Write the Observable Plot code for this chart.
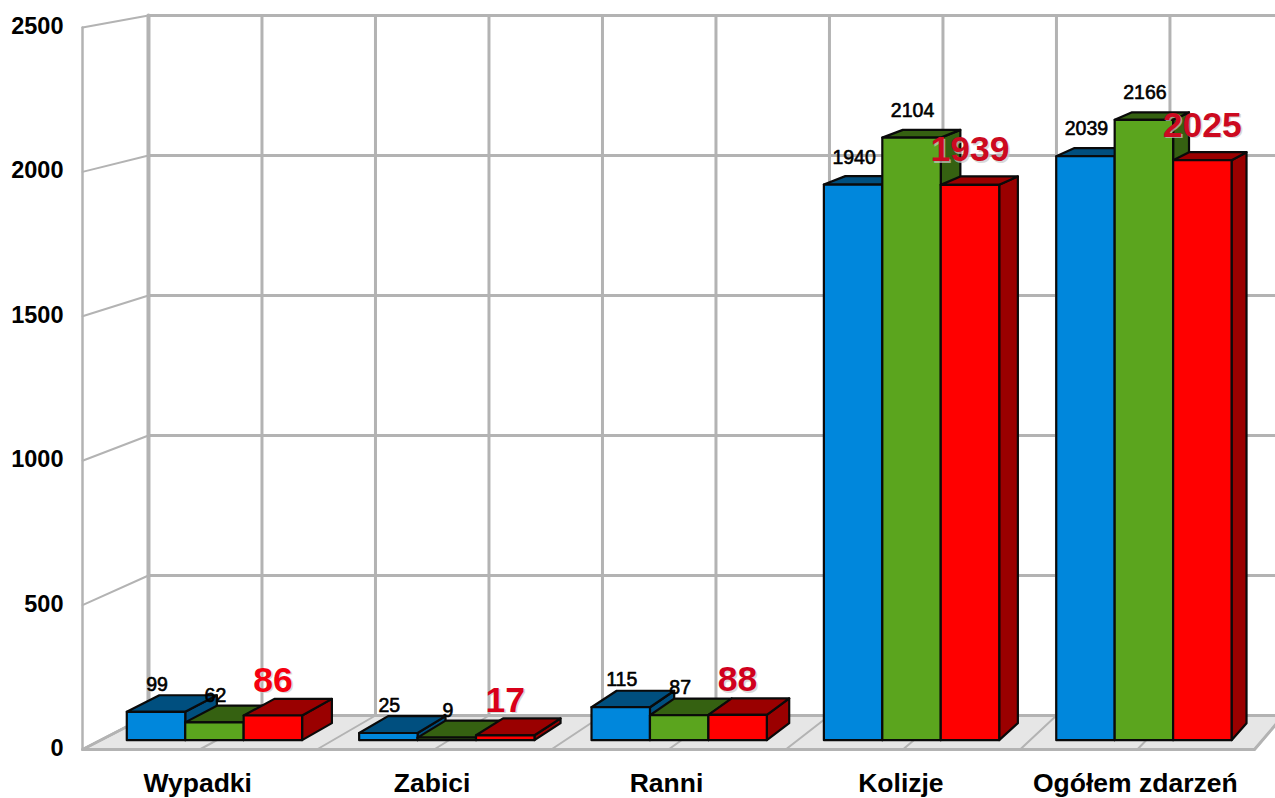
<!DOCTYPE html>
<html>
<head>
<meta charset="utf-8">
<script src="https://cdn.jsdelivr.net/npm/d3@7"></script>
<script src="https://cdn.jsdelivr.net/npm/@observablehq/plot@0.6"></script>
<style>
html,body{margin:0;padding:0;background:#fff;overflow:hidden}
svg{display:block}
</style>
</head>
<body>
<div id="chart"></div>
<script>
const categories = ["Wypadki", "Zabici", "Ranni", "Kolizje", "Ogółem zdarzeń"];
const seriesBlue = [99, 25, 115, 1940, 2039];
const seriesGreen = [62, 9, 87, 2104, 2166];
const seriesRed = [86, 17, 88, 1939, 2025];
const yTicks = [0, 500, 1000, 1500, 2000, 2500];
const faceColors = [
  {front: "#0087dc", shade: "#004f7f"},
  {front: "#5ba51e", shade: "#356111"},
  {front: "#ff0000", shade: "#9a0000"}
];
const redLabelColors = ["#f5000f", "#d8001a", "#d0001e", "#cc0a20", "#cc0a20"];

// Oblique perspective: depth d runs from the front of the floor (0) to the back wall (1).
const project = (u, v, d) => ({
  u: u + d * (0.563 - 0.0316 * u),
  v: v + d * (117.7 - 0.0305 * v)
});

const uMax = categories.length * 2;
const vMax = 2500;
const depthFront = 0.275, depthBack = 0.775;
const barStart = 0.225, barWidth = 0.503;

const polygon = (id, corners, extra = {}) =>
  [...corners, corners[0]].map(([u, v, d]) => ({id, ...project(u, v, d), ...extra}));
const segment = (id, a, b) => [a, b].map(([u, v, d]) => ({id, ...project(u, v, d)}));

const floor = polygon("floor", [[0, 0, 0], [uMax, 0, 0], [uMax, 0, 1], [0, 0, 1]]);
const floorLines = d3.range(0, uMax + 1).flatMap(u => segment("f" + u, [u, 0, 0], [u, 0, 1]));
const backVerticals = d3.range(1, uMax + 1).flatMap(u => segment("b" + u, [u, 0, 1], [u, vMax, 1]));
const backHorizontals = yTicks.flatMap(v => segment("h" + v, [0, v, 1], [uMax, v, 1]));
const wallLines = yTicks.flatMap(v => segment("w" + v, [0, v, 0], [0, v, 1]));
const wallFront = segment("wf", [0, 0, 0], [0, vMax, 0]);
const wallBack = segment("wb", [0, 0, 1], [0, vMax, 1]);

const allSeries = [seriesBlue, seriesGreen, seriesRed];
const faces = [];
const labels = [];
categories.forEach((c, i) => {
  allSeries.forEach((values, s) => {
    const v = values[i];
    const u0 = 2 * i + barStart + s * barWidth, u1 = u0 + barWidth;
    const d0 = depthFront, d1 = depthBack;
    const key = `${i}-${s}`;
    const {front, shade} = faceColors[s];
    faces.push(...polygon(key + "side", [[u1, 0, d0], [u1, 0, d1], [u1, v, d1], [u1, v, d0]], {color: shade}));
    faces.push(...polygon(key + "top", [[u0, v, d0], [u1, v, d0], [u1, v, d1], [u0, v, d1]], {color: shade}));
    faces.push(...polygon(key + "front", [[u0, 0, d0], [u1, 0, d0], [u1, v, d0], [u0, v, d0]], {color: front}));
    const p = project((u0 + u1) / 2, v, d0);
    labels.push({...p, text: String(v), s, i});
  });
});

const grey = "#b3b3b3";
const gridLine = (data, strokeWidth, extra = {}) =>
  Plot.line(data, {x: "u", y: "v", z: "id", stroke: grey, strokeWidth, ...extra});

const plot = Plot.plot({
  width: 1275,
  height: 798,
  marginLeft: 82,
  marginRight: 21,
  marginTop: 27,
  marginBottom: 49,
  style: {background: "#fff", fontFamily: "'Liberation Sans', Arial, sans-serif"},
  x: {domain: [0, uMax], label: null},
  y: {domain: [0, vMax], label: null},
  color: {type: "identity"},
  marks: [
    Plot.line(floor, {x: "u", y: "v", z: "id", fill: "#e6e6e6", stroke: grey, strokeWidth: 3}),
    gridLine(floorLines, 2),
    gridLine(backVerticals, 3),
    gridLine(backHorizontals, 3),
    gridLine(wallLines, 2),
    gridLine(wallFront, 2.5),
    gridLine(wallBack, 4),
    Plot.line(faces, {x: "u", y: "v", z: "id", fill: "color", stroke: "#0a0a0a", strokeWidth: 2.2, strokeLinejoin: "round"}),
    Plot.text(labels.filter(d => d.s < 2), {
      x: "u", y: "v", text: "text", dy: -27, dx: 1, fontSize: 19.5, fill: "#000", stroke: "#000", strokeWidth: 0.6
    }),
    Plot.text(labels.filter(d => d.s === 2), {
      x: "u", y: "v", text: "text", dy: -33.5, dx: 1.5, fontSize: 35.5, fontWeight: "bold", fill: "#c9c9c9", fillOpacity: 0.7
    }),
    Plot.text(labels.filter(d => d.s === 2), {
      x: "u", y: "v", text: "text", dy: -35, dx: 0, fontSize: 35.5, fontWeight: "bold",
      fill: d => redLabelColors[d.i]
    }),
    Plot.axisY({
      ticks: yTicks, tickFormat: "d", tickSize: 0, tickPadding: 19, dy: -1,
      fontSize: 23.5, fontWeight: "bold", fill: "#000", label: null
    }),
    Plot.axisX({
      ticks: categories.map((c, i) => 2 * i + 1),
      tickFormat: u => categories[(u - 1) / 2],
      tickSize: 0, tickPadding: 24, dx: -2,
      fontSize: 26.5, fontWeight: "bold", fill: "#000", label: null
    })
  ]
});
document.getElementById("chart").append(plot);
</script>
</body>
</html>
